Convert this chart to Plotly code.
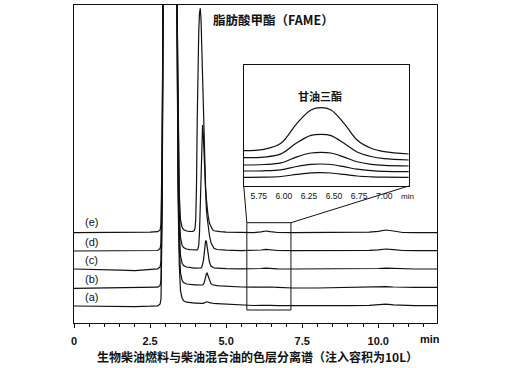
import plotly.graph_objects as go

# ---------------- data ----------------
# retention time, min (main chromatogram)
time_min = [0.0, 0.5, 1.0, 1.5, 2.0, 2.5, 2.75, 2.83, 2.86, 2.90, 2.94, 3.00, 3.17, 3.30, 3.38,
            3.42, 3.46, 3.50, 3.55, 3.60, 3.70, 3.80, 3.90, 3.95, 3.975, 4.00, 4.025, 4.05,
            4.075, 4.10, 4.125, 4.15, 4.175, 4.20, 4.225, 4.25, 4.275, 4.30, 4.325, 4.35,
            4.375, 4.40, 4.45, 4.50, 4.55, 4.60, 4.70, 4.80, 5.00, 5.50, 5.90, 6.15, 6.30,
            6.45, 6.70, 7.20, 8.00, 9.00, 9.70, 10.00, 10.25, 10.50, 10.80, 11.20, 11.93]

# detector signal (offset traces), arbitrary units
signal_e = [90.3, 90.3, 90.4, 90.5, 90.6, 90.9, 91.3, 93, 99, 190, 420, 900, 1800, 1200, 340,
            196, 129, 103, 96, 93.5, 92, 91.6, 91.5, 92.5, 94.5, 102.5, 136, 203,
            259, 292, 310, 314.7, 303.5, 274, 238.5, 203, 176, 153.5, 135.5, 124.5,
            115.5, 109, 100, 95.5, 93.3, 92.2, 91.6, 91.3, 90.8, 90.4, 90.4, 91.2, 92.0,
            91.3, 90.5, 90.3, 90.3, 90.4, 90.8, 91.7, 93.0, 92.0, 90.5, 90.3, 90.3]
signal_d = [72.0, 72.0, 72.0, 72.0, 72.1, 72.3, 72.5, 74.5, 80, 172, 420, 900, 1800, 1200, 340,
            178, 111, 85, 78, 75.5, 74, 73.4, 73.2, 73.1, 73.1, 73.1, 73.1, 73.1,
            74.3, 78, 90.5, 116.8, 150.5, 185.5, 198, 188, 166.8, 144.3, 126.8, 114.3,
            105.5, 98, 88, 80.5, 76.8, 74.8, 73.5, 73.2, 72.8, 72.4, 72.4, 73.0, 73.7,
            73.1, 72.5, 72.3, 72.3, 72.4, 72.6, 73.2, 74.0, 73.3, 72.5, 72.3, 72.3]
signal_c = [54.0, 53.8, 53.3, 52.8, 52.4, 53.2, 54.2, 56, 62, 154, 420, 900, 1800, 1200, 340,
            160, 93, 67, 60, 57.5, 56, 55.3, 55.0, 54.9, 54.9, 54.9, 54.9, 54.9,
            54.9, 54.9, 54.9, 54.9, 55.1, 55.9, 58.2, 61.9, 68.3, 76.8, 82.4, 81.6,
            76.8, 70.3, 61.0, 57.0, 55.6, 55.0, 54.8, 54.6, 54.4, 54.1, 54.1, 54.5, 54.9,
            54.5, 54.1, 54.0, 54.0, 54.0, 54.2, 54.5, 54.8, 54.4, 54.1, 54.0, 54.0]
signal_b = [34.7, 34.8, 35.0, 35.2, 35.4, 35.6, 35.8, 37.5, 43, 136, 420, 900, 1800, 1200, 340,
            143, 76, 50, 43, 40.5, 39, 38.4, 38.2, 38.1, 38.1, 38.1, 38.0, 38.0,
            38.0, 38.0, 38.0, 38.0, 38.0, 38.0, 38.1, 38.6, 40.0, 42.2, 45.8, 49.3,
            50.0, 47.8, 42.2, 39.3, 38.2, 37.7, 37.4, 37.1, 36.6, 36.0, 35.8, 36.0, 36.3,
            36.0, 35.6, 35.0, 35.0, 35.8, 36.0, 36.2, 36.4, 36.0, 35.7, 35.7, 35.7]
signal_a = [17.0, 16.8, 16.5, 16.3, 16.4, 16.8, 17.2, 19, 24.5, 117, 420, 900, 1800, 1200, 340,
            125, 58, 32, 25, 22.3, 20.8, 20.2, 20.0, 19.9, 19.9, 19.9, 19.8, 19.8,
            19.8, 19.7, 19.7, 19.7, 19.7, 19.7, 19.7, 19.7, 19.8, 20.2, 20.7, 21.2,
            21.3, 21.0, 20.3, 19.8, 19.6, 19.5, 19.3, 19.1, 18.6, 17.8, 17.5, 17.6, 17.9,
            17.6, 17.3, 17.2, 17.2, 17.3, 17.6, 18.2, 18.8, 18.2, 17.5, 17.3, 17.3]

# inset: triglyceride region (magnified, separately offset)
inset_time = [5.60, 5.80, 5.97, 6.13, 6.27, 6.37, 6.47, 6.60, 6.73, 6.87, 7.00, 7.25]
inset_e = [35.3, 36.7, 42.7, 62.7, 76.0, 78.3, 76.0, 62.7, 46.0, 37.7, 34.3, 32.0]
inset_d = [28.3, 28.9, 32.1, 43.3, 50.6, 51.7, 50.4, 42.7, 34.0, 29.5, 27.3, 26.0]
inset_c = [21.0, 21.5, 23.1, 29.2, 33.0, 33.7, 33.0, 28.9, 24.3, 21.7, 20.6, 20.0]
inset_b = [15.0, 15.2, 16.2, 19.5, 21.6, 22.0, 21.5, 19.3, 16.8, 15.3, 14.6, 14.3]
inset_a = [8.7, 8.8, 9.5, 11.6, 13.1, 13.3, 13.0, 11.6, 10.0, 9.2, 8.8, 8.7]

trace_labels = ["(a)", "(b)", "(c)", "(d)", "(e)"]
main_ticks = [0, 2.5, 5.0, 7.5, 10.0]
main_tick_text = ["0", "2.5", "5.0", "7.5", "10.0"]
inset_ticks = [5.75, 6.00, 6.25, 6.50, 6.75, 7.00]
inset_tick_text = ["5.75", "6.00", "6.25", "6.50", "6.75", "7.00"]

# ---------------- layout constants ----------------
W, H = 510, 368
ML, MR, MT, MB = 74, 73, 5, 45
PW, PH = W - ML - MR, H - MT - MB
XMAX = 11.93
YMAX = 318
INSET_X = [0.4677, 0.9218]
INSET_Y = [0.4308, 0.8113]
INSET_XR = [5.60, 7.244]
INSET_YR = [0, 121]
ZOOM_BOX = dict(x0=5.68, x1=7.13, y0=13, y1=100.3)
LABEL_Y = [26, 44, 63, 81.5, 101]


def px(x):
    return (x - ML) / PW


def py(y):
    return (H - MB - y) / PH


CJK = "Noto Sans CJK SC"
LAT = "Liberation Sans, Arial, sans-serif"
LINE = dict(color="#111111", width=1.2)

fig = go.Figure()
for ys in [signal_a, signal_b, signal_c, signal_d, signal_e]:
    fig.add_trace(go.Scatter(x=time_min, y=ys, mode="lines", line=LINE,
                             xaxis="x", yaxis="y", showlegend=False, hoverinfo="skip"))
for ys in [inset_a, inset_b, inset_c, inset_d, inset_e]:
    fig.add_trace(go.Scatter(x=inset_time, y=ys, mode="lines",
                             line=dict(color="#111111", width=1.2, shape="spline", smoothing=1.0),
                             xaxis="x2", yaxis="y2", showlegend=False, hoverinfo="skip"))


def note(x, y, text, font, **kw):
    d = dict(x=px(x), y=py(y), xref="paper", yref="paper", text=text, showarrow=False,
             xanchor="center", yanchor="middle", font=font)
    d.update(kw)
    return d


annotations = []
for lab, yv in zip(trace_labels, LABEL_Y):
    annotations.append(dict(x=0.58, y=yv, xref="x", yref="y", text=lab, showarrow=False,
                            xanchor="center", yanchor="middle",
                            font=dict(family=LAT, size=11, color="#111")))
annotations += [
    note(430, 338.5, "min", dict(family=LAT, size=11, color="#111", weight="bold")),
    note(407, 196.5, "min", dict(family=LAT, size=8, color="#111")),
    note(320, 96, "甘油三酯", dict(family=CJK, size=11, color="#111", weight="bold")),
    note(273, 20, "脂肪酸甲酯（FAME）", dict(family=CJK, size=12.5, color="#111", weight="bold")),
    note(257, 356, "生物柴油燃料与柴油混合油的色层分离谱（注入容积为10L）",
         dict(family=CJK, size=12, color="#111", weight="bold")),
]

# zoom box and connector lines (main data coords)
inset_left_x = INSET_X[0] * XMAX
inset_right_x = INSET_X[1] * XMAX
inset_bottom_y = INSET_Y[0] * YMAX
shapes = [
    dict(type="rect", xref="x", yref="y", line=dict(color="#111", width=1), **ZOOM_BOX),
    dict(type="line", xref="x", yref="y", x0=ZOOM_BOX["x0"], y0=ZOOM_BOX["y1"],
         x1=inset_left_x, y1=inset_bottom_y, line=dict(color="#111", width=1)),
    dict(type="line", xref="x", yref="y", x0=ZOOM_BOX["x1"], y0=ZOOM_BOX["y1"],
         x1=inset_right_x, y1=inset_bottom_y, line=dict(color="#111", width=1)),
]

fig.update_layout(
    width=W, height=H,
    margin=dict(l=ML, r=MR, t=MT, b=MB),
    paper_bgcolor="white", plot_bgcolor="white",
    showlegend=False,
    xaxis=dict(range=[0, XMAX], showgrid=False, zeroline=False, showline=True, mirror=True,
               linecolor="#111", linewidth=1, ticks="outside", ticklen=4, tickcolor="#111",
               tickvals=main_ticks, ticktext=main_tick_text, ticklabelstandoff=4,
               tickfont=dict(family=LAT, size=11, color="#111", weight="bold"),
               minor=dict(tickvals=[0.5 * i for i in range(24)], ticks="outside", ticklen=3,
                          tickcolor="#111", showgrid=False)),
    yaxis=dict(range=[0, YMAX], showgrid=False, zeroline=False, showline=True, mirror=True,
               linecolor="#111", linewidth=1, showticklabels=False, ticks=""),
    xaxis2=dict(domain=INSET_X, anchor="y2", range=INSET_XR, showgrid=False, zeroline=False,
                showline=True, mirror=True, linecolor="#111", linewidth=1, ticks="",
                tickvals=inset_ticks, ticktext=inset_tick_text, ticklabelstandoff=2,
                tickfont=dict(family=LAT, size=8.5, color="#111")),
    yaxis2=dict(domain=INSET_Y, anchor="x2", range=INSET_YR, showgrid=False, zeroline=False,
                showline=True, mirror=True, linecolor="#111", linewidth=1,
                showticklabels=False, ticks=""),
    annotations=annotations,
    shapes=shapes,
)

fig.write_html("out.html", config={"displayModeBar": False},
               post_script="document.body.style.margin='0';")
